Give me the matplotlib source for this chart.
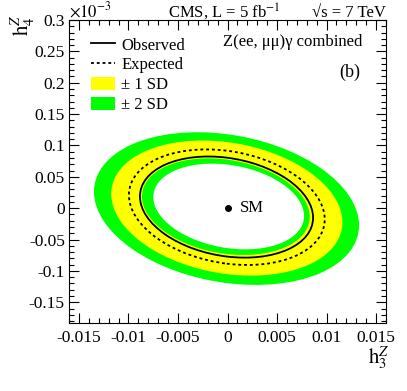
import numpy as np
import matplotlib
matplotlib.use("Agg")
import matplotlib.pyplot as plt
from matplotlib.patches import Ellipse, Patch
from matplotlib.lines import Line2D
from matplotlib.transforms import Affine2D
from matplotlib.ticker import MultipleLocator, FuncFormatter

plt.rcParams['font.family'] = ['Liberation Serif', 'DejaVu Serif']
plt.rcParams['mathtext.fontset'] = 'stix'

# Contours: centre (h3, h4[1e-3]), half extents in x and y, correlation
# order: outer 2SD, outer 1SD, inner 1SD, inner 2SD, expected, observed
contour_names = ["sd2_outer", "sd1_outer", "sd1_inner", "sd2_inner", "expected", "observed"]
contour_cx = [-0.0001, -0.00007, -0.00017, 0.00012, -0.00007, -0.0001]
contour_cy = [-0.0006, 0.0002, 0.0024, 0.0027, 0.0016, 0.0018]
contour_sx = [0.01338, 0.01167, 0.00847, 0.00761, 0.00988, 0.00874]
contour_sy = [0.1217, 0.1077, 0.0770, 0.0683, 0.0921, 0.0806]
contour_rho = [-0.22, -0.21, -0.21, -0.22, -0.21, -0.21]

sm_point = (0.0, 0.0)

xticks = [-0.015, -0.01, -0.005, 0, 0.005, 0.01, 0.015]
yticks = [-0.15, -0.1, -0.05, 0, 0.05, 0.1, 0.15, 0.2, 0.25, 0.3]

GREEN = '#00ff00'
YELLOW = '#ffff00'

fig = plt.figure(figsize=(4.07, 3.91), dpi=100)
ax = fig.add_axes([69/407, (391-323)/391, 317/407, 303/391])
ax.set_xlim(-0.016, 0.016)
ax.set_ylim(-0.183, 0.3)


def ellipse_transform(i):
    sx, sy, r = contour_sx[i], contour_sy[i], contour_rho[i]
    m = np.array([[sx, 0.0, contour_cx[i]],
                  [sy * r, sy * np.sqrt(1 - r * r), contour_cy[i]],
                  [0, 0, 1]])
    return Affine2D(m) + ax.transData


fills = [(0, GREEN), (1, YELLOW), (2, GREEN), (3, 'white')]
for z, (i, col) in enumerate(fills):
    e = Ellipse((0, 0), 2, 2, facecolor=col, edgecolor='none', zorder=1 + z * 0.1)
    e.set_transform(ellipse_transform(i))
    ax.add_patch(e)

e = Ellipse((0, 0), 2, 2, facecolor='none', edgecolor='black', lw=1.3,
            linestyle=(0, (1.6, 1.6)), zorder=3)
e.set_transform(ellipse_transform(4))
ax.add_patch(e)
e = Ellipse((0, 0), 2, 2, facecolor='none', edgecolor='black', lw=1.3, zorder=3)
e.set_transform(ellipse_transform(5))
ax.add_patch(e)

ax.plot([sm_point[0]], [sm_point[1]], 'o', color='black', ms=4, zorder=4)
ax.annotate('SM', xy=sm_point, xytext=(9, 0), textcoords='offset points',
            ha='left', va='center', fontsize=12)

ax.set_xticks(xticks)
ax.set_yticks(yticks)
ax.xaxis.set_minor_locator(MultipleLocator(0.001))
ax.yaxis.set_minor_locator(MultipleLocator(0.01))
fmt = FuncFormatter(lambda v, p: '%g' % round(v, 6))
ax.xaxis.set_major_formatter(fmt)
ax.yaxis.set_major_formatter(fmt)
ax.tick_params(which='both', direction='in', top=True, right=True, labelsize=12.5, width=0.8)
ax.tick_params(which='major', length=7)
ax.tick_params(which='minor', length=3.5)
ax.tick_params(axis='x', pad=5)
ax.tick_params(axis='y', pad=3)
for s in ax.spines.values():
    s.set_linewidth(0.8)

handles = [Line2D([], [], color='black', lw=1.3),
           Line2D([], [], color='black', lw=1.3, linestyle=(0, (1.6, 1.6))),
           Patch(facecolor=YELLOW, edgecolor='none'),
           Patch(facecolor=GREEN, edgecolor='none')]
labels = ['Observed', 'Expected', '± 1 SD', '± 2 SD']
ax.legend(handles, labels, loc='upper left', bbox_to_anchor=(0.07, 0.943), frameon=False,
          fontsize=12, handlelength=1.4, handleheight=0.85, handletextpad=0.4,
          labelspacing=0.2, borderpad=0, borderaxespad=0)

ax.text(0.925, 0.927, 'Z(ee, μμ)γ combined', transform=ax.transAxes, ha='right', va='center', fontsize=12)
ax.text(0.886, 0.828, '(b)', transform=ax.transAxes, ha='center', va='center', fontsize=13)

fig.text(69/407, 1 - 17/391, r'$\times10^{-3}$', ha='left', va='baseline', fontsize=12)
fig.text(224/407, 1 - 17/391, r'CMS, L = 5 fb$^{\mathrm{-1}}$', ha='center', va='baseline', fontsize=12)
fig.text(386/407, 1 - 17/391, '√s = 7 TeV', ha='right', va='baseline', fontsize=12)
fig.text(24/407, 1 - 14/391, r'$\mathrm{h}_{4}^{Z}$', ha='center', va='top', rotation=90, fontsize=15)
fig.text(390/407, 1 - 372/391, r'$\mathrm{h}_{3}^{Z}$', ha='right', va='bottom', fontsize=15)

fig.savefig('out.png', dpi=100)
